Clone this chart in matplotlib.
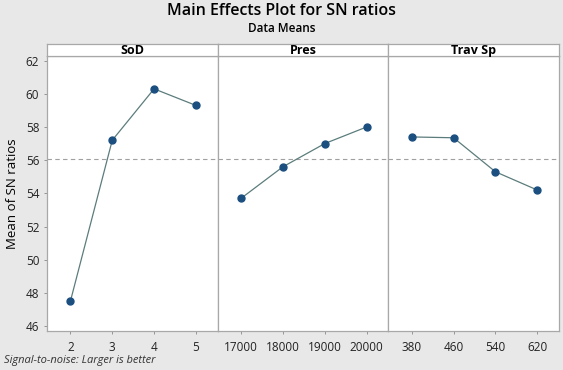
import matplotlib.pyplot as plt

plt.rcParams['font.family'] = ['Open Sans', 'DejaVu Sans']

factors = ["SoD", "Pres", "Trav Sp"]
levels = [["2", "3", "4", "5"],
          ["17000", "18000", "19000", "20000"],
          ["380", "460", "540", "620"]]
sod_means = [47.5, 57.2, 60.3, 59.3]
pres_means = [53.7, 55.6, 57.0, 58.0]
trav_means = [57.4, 57.35, 55.3, 54.2]
all_means = [sod_means, pres_means, trav_means]
grand_mean = sum(sod_means) / len(sod_means)

W, H = 563, 370
fig = plt.figure(figsize=(W / 100, H / 100), dpi=100, facecolor="#e8e8e8")
left, right, bottom, top = 47 / W, 559 / W, 1 - 331 / H, 1 - 56 / H
strip_h = 12 / H
pw = (right - left) / 3

axes = []
for i, (name, labs, vals) in enumerate(zip(factors, levels, all_means)):
    ax = fig.add_axes([left + i * pw, bottom, pw, top - bottom])
    axes.append(ax)
    x = list(range(len(vals)))
    ax.axhline(grand_mean, color="#a0a0a0", ls=(0, (4, 3)), lw=0.8, zorder=1)
    ax.plot(x, vals, color="#5c7c7c", lw=0.9, zorder=2)
    ax.plot(x, vals, "o", color="#1b4f80", ms=5, zorder=3)
    ax.set_xlim(-0.56, 3.52)
    ax.set_ylim(45.7, 62.28)
    ax.set_xticks(x)
    ax.set_xticklabels(labs, fontsize=8.5, color="#222222")
    ax.set_yticks(range(46, 63, 2))
    ax.tick_params(axis="x", length=2, width=0.6, color="#888888", pad=5)
    ax.tick_params(axis="y", length=2, width=0.6, color="#888888", labelsize=8.5,
                   labelcolor="#222222")
    if i > 0:
        ax.tick_params(axis="y", left=False, labelleft=False)
    for s in ax.spines.values():
        s.set_color("#a8a8a8")
        s.set_linewidth(0.9)
    sax = fig.add_axes([left + i * pw, top, pw, strip_h])
    sax.set_xticks([])
    sax.set_yticks([])
    sax.set_facecolor("white")
    for s in sax.spines.values():
        s.set_color("#a8a8a8")
        s.set_linewidth(0.9)
    sax.text(0.5, 0.45, name, ha="center", va="center", fontsize=9,
             fontweight="bold", transform=sax.transAxes)

axes[0].set_ylabel("Mean of SN ratios", fontsize=9.5, labelpad=5)

fig.text(0.5, 1 - 11 / H, "Main Effects Plot for SN ratios", ha="center",
         va="center", fontsize=11.5, fontweight="semibold")
fig.text(0.5, 1 - 28 / H, "Data Means", ha="center", va="center", fontsize=8.5,
         fontweight="semibold")
fig.text(4 / W, 1 - 361 / H, "Signal-to-noise: Larger is better",
         ha="left", va="center", fontsize=8, style="italic", color="#333333")

fig.savefig("out.png", dpi=100, facecolor=fig.get_facecolor())
